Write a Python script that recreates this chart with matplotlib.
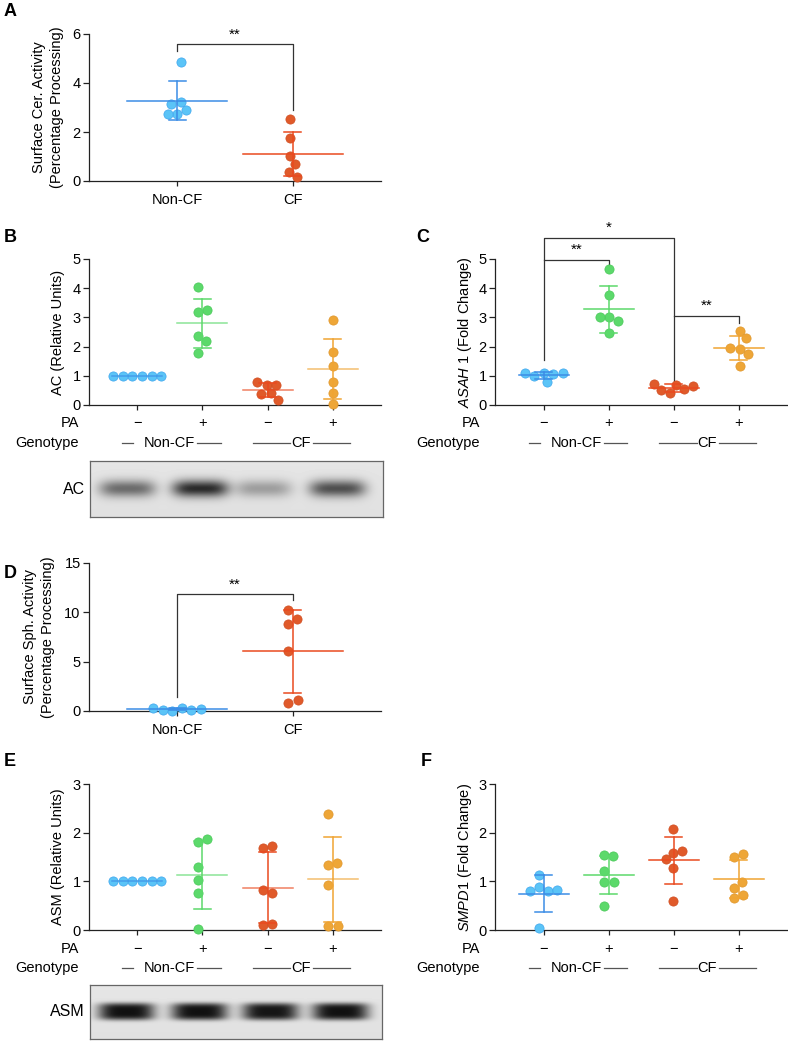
import numpy as np
import matplotlib
matplotlib.use('Agg')
import matplotlib.pyplot as plt
from matplotlib.lines import Line2D

plt.rcParams['font.family'] = ['Liberation Sans', 'DejaVu Sans']
plt.rcParams['mathtext.fontset'] = 'custom'
plt.rcParams['mathtext.rm'] = 'Liberation Sans'
plt.rcParams['mathtext.it'] = 'Liberation Sans:italic'

# ---------------- data ----------------
genotypes = ['Non-CF', 'CF']
pa_signs = ['\u2212', '+', '\u2212', '+']

# A: surface ceramidase activity
a_values = [[4.85, 3.22, 2.9, 2.75, 2.75, 3.15],
            [2.52, 1.75, 1.02, 0.68, 0.38, 0.18]]
a_mean = [3.27, 1.09]
a_sd = [0.80, 0.89]

# B: AC protein
b_values = [[1.0, 1.0, 1.0, 1.0, 1.0, 1.0],
            [4.05, 3.18, 3.25, 2.35, 2.18, 1.78],
            [0.7, 0.67, 0.78, 0.4, 0.38, 0.18],
            [2.9, 1.8, 1.35, 0.8, 0.42, 0.05]]
b_mean = [1.0, 2.8, 0.52, 1.22]
b_sd = [0.0, 0.84, 0.23, 1.03]
ac_band = [0.55, 0.85, 0.32, 0.68]

# C: ASAH1 mRNA
c_values = [[1.08, 1.06, 0.78, 1.0, 1.08, 1.08],
            [4.65, 3.78, 3.0, 2.88, 3.0, 2.45],
            [0.68, 0.55, 0.4, 0.5, 0.65, 0.72],
            [2.55, 2.3, 1.92, 1.75, 1.95, 1.35]]
c_mean = [1.02, 3.28, 0.58, 1.95]
c_sd = [0.12, 0.80, 0.14, 0.42]

# D: surface sphingomyelinase activity
d_values = [[0.28, 0.15, 0.05, 0.15, 0.2, 0.32],
            [10.2, 8.8, 9.3, 6.05, 0.85, 1.15]]
d_mean = [0.2, 6.05]
d_sd = [0.1, 4.2]

# E: ASM protein
e_values = [[1.0, 1.0, 1.0, 1.0, 1.0, 1.0],
            [1.8, 1.87, 1.3, 1.03, 0.77, 0.02],
            [1.68, 1.73, 0.82, 0.77, 0.1, 0.12],
            [2.38, 1.33, 1.38, 0.93, 0.08, 0.08]]
e_mean = [1.0, 1.13, 0.87, 1.04]
e_sd = [0.0, 0.69, 0.73, 0.87]
asm_band = [0.97, 0.97, 0.95, 0.97]

# F: SMPD1 mRNA
f_values = [[1.13, 0.88, 0.8, 0.8, 0.82, 0.05],
            [1.55, 1.52, 1.22, 0.98, 0.98, 0.5],
            [2.07, 1.58, 1.62, 1.45, 1.28, 0.6],
            [1.5, 1.56, 0.87, 0.98, 0.65, 0.72]]
f_mean = [0.75, 1.13, 1.43, 1.04]
f_sd = [0.37, 0.40, 0.49, 0.39]

# ---------------- style ----------------
dot_colors = ['#5BC4F7', '#5CD96B', '#E05A2A', '#EEA637']
line_colors = ['#3C8DE6', '#5CD96B', '#EA4A1F', '#F0A433']
edge_colors = ['#3FA6EE', '#48C858', '#D04E22', '#E0962A']
ink = '#222222'

W, H = 788, 1041
fig = plt.figure(figsize=(W / 100, H / 100), dpi=100)


def px_axes(x0, x1, y_top, y_bot):
    return fig.add_axes([x0 / W, 1 - y_bot / H, (x1 - x0) / W, (y_bot - y_top) / H])


def swarm(ax, xc, vals, d=9.6):
    pts = ax.transData.transform([(xc, v) for v in vals])
    placed = []
    offs = []
    for y in pts[:, 1]:
        cands = [0.0]
        for px, py in placed:
            dy = abs(py - y)
            if dy < d:
                dx = np.sqrt(d * d - dy * dy)
                cands += [px + dx, px - dx]
        cands.sort(key=abs)
        for c in cands:
            if all((c - px) ** 2 + (y - py) ** 2 >= d * d - 1e-6 for px, py in placed):
                break
        placed.append((c, y))
        offs.append(c)
    offs = np.array(offs)
    offs -= (offs.max() + offs.min()) / 2
    inv = ax.transData.inverted()
    return inv.transform(np.c_[pts[:, 0] + offs, pts[:, 1]])[:, 0]


def style(ax, xlim, ylim, yticks):
    ax.set_xlim(xlim)
    ax.set_ylim(ylim)
    ax.set_yticks(yticks)
    for sp in ['top', 'right']:
        ax.spines[sp].set_visible(False)
    for sp in ['left', 'bottom']:
        ax.spines[sp].set_linewidth(0.9)
        ax.spines[sp].set_color(ink)
    ax.tick_params(axis='y', length=4, width=0.9, color=ink, labelsize=10.5, pad=2)
    ax.tick_params(axis='x', length=3.5, width=0.9, color=ink, labelsize=10.5, pad=5)
    ax.patch.set_visible(False)


def dots(ax, values, means, sds, cols, mean_px, mean_alpha=1.0):
    ppx = ax.transData.transform([(1, 0)])[0][0] - ax.transData.transform([(0, 0)])[0][0]
    hw = mean_px / ppx
    cw = 8.5 / ppx
    for i, vals in enumerate(values):
        c = cols[i]
        xs = swarm(ax, i, vals)
        ax.scatter(xs, vals, s=44, color=dot_colors[c], edgecolor=edge_colors[c],
                   linewidth=0.5, zorder=3, clip_on=False)
        m, s = means[i], sds[i]
        ax.plot([i - hw, i + hw], [m, m], color=line_colors[c], lw=1.1, zorder=4,
                alpha=mean_alpha)
        if s > 0:
            ax.plot([i, i], [m - s, m + s], color=line_colors[c], lw=1.1, zorder=4)
            for yy in (m - s, m + s):
                ax.plot([i - cw, i + cw], [yy, yy], color=line_colors[c], lw=1.1, zorder=4)


def bracket(ax, x0, x1, y_top, y0, y1, label, label_y):
    ax.plot([x0, x0, x1, x1], [y0, y_top, y_top, y1], color='#333333', lw=0.9,
            clip_on=False, zorder=2)
    if label:
        ax.text((x0 + x1) / 2, label_y, label, ha='center', va='center', fontsize=11,
                clip_on=False)


def pa_rows(ax, label_x, row_y, geno_y):
    for i, s in enumerate(pa_signs):
        ax.annotate(s, xy=(i, 0), xycoords=('data', 'axes fraction'),
                    xytext=(0, -(row_y) * 0.72), textcoords='offset points',
                    ha='center', va='center', fontsize=10.5, annotation_clip=False)
    ax.annotate('Non-CF', xy=(0.5, 0), xycoords=('data', 'axes fraction'),
                xytext=(0, -geno_y * 0.72), textcoords='offset points',
                ha='center', va='center', fontsize=10.5, annotation_clip=False)
    ax.annotate('CF', xy=(2.51, 0), xycoords=('data', 'axes fraction'),
                xytext=(0, -geno_y * 0.72), textcoords='offset points',
                ha='center', va='center', fontsize=10.5, annotation_clip=False)
    y0 = ax.get_position().y0 - geno_y / H
    for a, b in [(-0.23, -0.06), (0.92, 1.28), (1.77, 2.35), (2.69, 3.26)]:
        xa = fig.transFigure.inverted().transform(ax.transData.transform([(a, 0), (b, 0)]))[:, 0]
        fig.add_artist(Line2D(xa, [y0, y0], color='#555555', lw=0.9))
    fig.text(label_x / W, y0 + (geno_y - row_y) / H, 'PA', ha='right', va='center', fontsize=10.5)
    fig.text(label_x / W, y0, 'Genotype', ha='right', va='center', fontsize=10.5)


def blot(x0, x1, y_top, y_bot, centers, intens, label, sharp):
    ax = px_axes(x0, x1, y_top, y_bot)
    w, h = x1 - x0, y_bot - y_top
    xx, yy = np.meshgrid(np.arange(w), np.arange(h))
    img = np.full((h, w), 0.9) - 0.02 * (yy / h)
    for cx, it in zip(centers, intens):
        img -= it * 0.85 * np.exp(-((xx - cx) / 28.0) ** 4) * \
            np.exp(-np.abs((yy - h / 2 + 1) / 8.5) ** sharp)
    ax.imshow(img, cmap='gray', vmin=0, vmax=1, aspect='auto', interpolation='bilinear')
    ax.set_xticks([])
    ax.set_yticks([])
    for sp in ax.spines.values():
        sp.set_color('#666666')
        sp.set_linewidth(0.9)
    fig.text((x0 - 5) / W, 1 - (y_top + h / 2) / H, label, ha='right', va='center', fontsize=11.5)


def letter(x, y, s):
    fig.text(x / W, 1 - y / H, s, ha='left', va='center', fontsize=13, fontweight='bold')


# ---------------- panel A ----------------
ax = px_axes(89, 381, 34, 181)
style(ax, (-0.76, 1.76), (0, 6), [0, 2, 4, 6])
dots(ax, a_values, a_mean, a_sd, [0, 2], 50)
ax.set_xticks([0, 1])
ax.set_xticklabels(genotypes)
ax.set_ylabel('Surface Cer. Activity\n(Percentage Processing)', fontsize=10.5,
              linespacing=1.3, va='center')
ax.yaxis.set_label_coords(-0.14, 0.5)
bracket(ax, 0, 1, 5.59, 5.29, 2.9, '**', 5.98)
letter(4, 12, 'A')

# ---------------- panel B ----------------
ax = px_axes(89, 381, 259, 405)
style(ax, (-0.74, 3.74), (0, 5), [0, 1, 2, 3, 4, 5])
dots(ax, b_values, b_mean, b_sd, [0, 1, 2, 3], 25, mean_alpha=0.7)
ax.set_xticks([0, 1, 2, 3])
ax.set_xticklabels([])
ax.set_ylabel('AC (Relative Units)', fontsize=10.5, va='center')
ax.yaxis.set_label_coords(-0.106, 0.5)
pa_rows(ax, 79, 18, 38)
blot(90, 383, 461, 517, [37, 110, 173, 247], ac_band, 'AC', 2)
letter(4, 237, 'B')

# ---------------- panel C ----------------
ax = px_axes(495, 787, 259, 405)
style(ax, (-0.75, 3.74), (0, 5), [0, 1, 2, 3, 4, 5])
dots(ax, c_values, c_mean, c_sd, [0, 1, 2, 3], 25)
ax.set_xticks([0, 1, 2, 3])
ax.set_xticklabels([])
ax.set_ylabel(r'$\mathit{ASAH\ 1}$ (Fold Change)', fontsize=10.5, va='center')
ax.yaxis.set_label_coords(-0.103, 0.5)
pa_rows(ax, 480, 18, 38)
bracket(ax, 0, 2, 5.72, 1.54, 0.8, '*', 6.08)
bracket(ax, 0, 1, 4.97, 4.97, 4.7, '**', 5.3)
bracket(ax, 2, 3, 3.05, 3.05, 2.8, '**', 3.4)
letter(416, 237, 'C')

# ---------------- panel D ----------------
ax = px_axes(89, 381, 563, 711)
style(ax, (-0.76, 1.76), (0, 15), [0, 5, 10, 15])
dots(ax, d_values, d_mean, d_sd, [0, 2], 50)
ax.set_xticks([0, 1])
ax.set_xticklabels(genotypes)
ax.set_ylabel('Surface Sph. Activity\n(Percentage Processing)', fontsize=10.5,
              linespacing=1.3, va='center')
ax.yaxis.set_label_coords(-0.171, 0.5)
bracket(ax, 0, 1, 11.85, 1.4, 11.25, '**', 12.8)
letter(4, 573, 'D')

# ---------------- panel E ----------------
ax = px_axes(89, 381, 784, 930)
style(ax, (-0.74, 3.74), (0, 3), [0, 1, 2, 3])
dots(ax, e_values, e_mean, e_sd, [0, 1, 2, 3], 25, mean_alpha=0.7)
ax.set_xticks([0, 1, 2, 3])
ax.set_xticklabels([])
ax.set_ylabel('ASM (Relative Units)', fontsize=10.5, va='center')
ax.yaxis.set_label_coords(-0.106, 0.5)
pa_rows(ax, 79, 19, 38)
blot(90, 382, 985, 1039, [36, 109, 180, 250], asm_band, 'ASM', 4)
letter(4, 762, 'E')

# ---------------- panel F ----------------
ax = px_axes(495, 787, 784, 930)
style(ax, (-0.75, 3.74), (0, 3), [0, 1, 2, 3])
dots(ax, f_values, f_mean, f_sd, [0, 1, 2, 3], 25)
ax.set_xticks([0, 1, 2, 3])
ax.set_xticklabels([])
ax.set_ylabel(r'$\mathit{SMPD1}$ (Fold Change)', fontsize=10.5, va='center')
ax.yaxis.set_label_coords(-0.103, 0.5)
pa_rows(ax, 480, 19, 38)
letter(421, 762, 'F')

fig.savefig('out.png', dpi=100)
